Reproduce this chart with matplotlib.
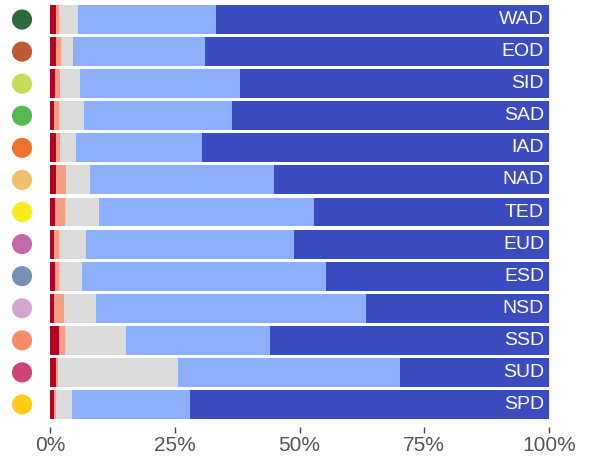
import numpy as np
import matplotlib.pyplot as plt
from matplotlib.transforms import blended_transform_factory

# categories, top to bottom
groups = ['WAD', 'EOD', 'SID', 'SAD', 'IAD', 'NAD', 'TED',
          'EUD', 'ESD', 'NSD', 'SSD', 'SUD', 'SPD']
dot_colors = ['#2d6a3e', '#c05a33', '#c8dc5a', '#55b954', '#ee7430',
              '#f0c070', '#f8ec1c', '#c46aa8', '#7890b4', '#d4a8cc',
              '#f88c6c', '#cc4478', '#fccc18']

# percentage shares per segment (left to right)
seg1 = [1.2, 1.2, 1.0, 0.8, 1.2, 1.2, 1.0, 0.8, 1.0, 0.8, 1.8, 1.2, 0.8]
seg2 = [0.6, 1.0, 1.0, 1.0, 0.8, 2.0, 2.0, 1.0, 0.8, 2.0, 1.2, 0.4, 0.4]
seg3 = [3.8, 2.4, 4.0, 5.0, 3.2, 4.8, 6.8, 5.4, 4.6, 6.4, 12.2, 24.0, 3.2]
seg4 = [27.7, 26.5, 32.1, 29.7, 25.3, 36.9, 43.1, 41.7, 48.9, 54.1, 28.9, 44.5, 23.6]
seg5 = [66.7, 68.9, 61.9, 63.5, 69.5, 55.1, 47.1, 51.1, 44.7, 36.7, 55.9, 29.9, 72.0]

seg_colors = ['#b40426', '#f4a082', '#dddcdc', '#8db0fe', '#3b4cc0']

fig = plt.figure(figsize=(5.89, 4.57), dpi=100)
ax = fig.add_axes([50 / 589, 1 - 420.5 / 457, 499 / 589, 417 / 457])

y = np.arange(len(groups))
left = np.zeros(len(groups))
for vals, c in zip([seg1, seg2, seg3, seg4, seg5], seg_colors):
    ax.barh(y, vals, left=left, height=0.9, color=c, linewidth=0)
    left += np.array(vals)

for i, g in enumerate(groups):
    ax.text(99, i, g, ha='right', va='center', color='white',
            fontsize=14, family='Liberation Sans')

# coloured dots on the left
trans = blended_transform_factory(ax.transAxes, ax.transData)
ax.scatter(np.full(len(groups), -28 / 499), y, s=210, c=dot_colors,
           transform=trans, clip_on=False, linewidths=0)

ax.set_xlim(0, 100)
ax.set_ylim(len(groups) - 0.5, -0.5)
ax.set_yticks([])
ax.set_xticks([0, 25, 50, 75, 100])
ax.set_xticklabels(['0%', '25%', '50%', '75%', '100%'])
for s in ax.spines.values():
    s.set_visible(False)
ax.spines['bottom'].set_position(('outward', 5))
ax.tick_params(axis='x', length=4, width=1, color='#444444', pad=2,
               labelsize=15, labelcolor='#555555')
for lab in ax.get_xticklabels():
    lab.set_family('Liberation Sans')

fig.savefig('out.png', dpi=100)
